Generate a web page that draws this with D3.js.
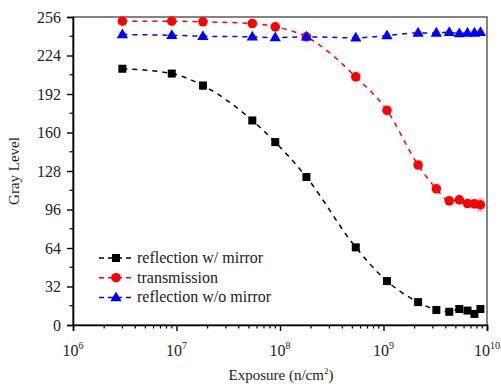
<!DOCTYPE html>
<html>
<head>
<meta charset="utf-8">
<script src="https://cdn.jsdelivr.net/npm/d3@7"></script>
<style>
  body { margin: 0; background: #fff; }
  text { font-family: 'Liberation Serif', serif; }
</style>
</head>
<body>
<svg id="chart" width="501" height="384"></svg>
<script>
// exposure (n/cm^2)
let exposure = [3e6, 9e6, 1.8e7, 5.4e7, 9e7, 1.8e8, 5.4e8, 1.08e9, 2.16e9, 3.24e9, 4.32e9, 5.4e9, 6.48e9, 7.56e9, 8.64e9]
let mirrorVals = [213, 209, 199, 170, 152, 123, 64.5, 36.5, 19, 12.5, 11, 13.3, 12, 9.2, 13.3]
let mirrorErr = [2, 1.5, 3, 2, 1, 1, 1, 1, 1, 1, 1, 1, 1, 1, 1]
let transVals = [252.5, 252.5, 252, 250.6, 247.8, 239.5, 206.2, 178.4, 133, 113.2, 103.2, 104, 101, 100.7, 99.9]
let transErr = [1, 1, 1, 1, 1, 1, 2, 2.5, 2, 2.5, 1.5, 3, 1.5, 2, 5]
let reflVals = [241.4, 240.8, 240, 239.5, 238.9, 239.5, 238.7, 240.6, 242.8, 242.8, 243.3, 242.3, 242.8, 242.8, 243.3]
let reflErr = [1.5, 1, 1, 1, 1, 1, 1.5, 1, 1, 1, 1, 1.5, 1, 1, 1]
let yTicks = [0, 32, 64, 96, 128, 160, 192, 224, 256]
let xDecades = [6, 7, 8, 9, 10]

let series = [
    { name: 'reflection w/ mirror', vals: mirrorVals, err: mirrorErr, color: '#000000', errColor: '#888888', shape: 'square' },
    { name: 'transmission', vals: transVals, err: transErr, color: '#ff0000', errColor: '#ff8888', shape: 'circle' },
    { name: 'reflection w/o mirror', vals: reflVals, err: reflErr, color: '#0000ff', errColor: '#8888ff', shape: 'triangle' }
]

let serif = 'Liberation Serif'
let chart = d3.select('#chart')
let plotLeft = 73, plotTop = 17, plotRight = 487, plotBottom = 325

let xScale = d3.scaleLog().domain([1e6, 1e10]).range([plotLeft, plotRight])
let yScale = d3.scaleLinear().domain([0, 256]).range([plotBottom, plotTop])

// frame
chart.append('rect')
    .attr('x', plotLeft).attr('y', plotTop)
    .attr('width', plotRight - plotLeft).attr('height', plotBottom - plotTop)
    .attr('fill', 'none').attr('stroke', '#333').attr('stroke-width', 1.2)

// minor ticks
let xMinor = []
for (let d = 6; d < 10; d++) for (let m = 2; m <= 9; m++) xMinor.push(m * Math.pow(10, d))
chart.append('g').selectAll('line').data(xMinor).enter().append('line')
    .attr('x1', (d) => xScale(d)).attr('x2', (d) => xScale(d))
    .attr('y1', plotBottom).attr('y2', plotBottom + 3.5)
    .attr('stroke', '#000').attr('stroke-width', 1.2)
let yMinor = d3.range(16, 256, 32)
chart.append('g').selectAll('line').data(yMinor).enter().append('line')
    .attr('x1', plotLeft - 3.5).attr('x2', plotLeft)
    .attr('y1', (d) => yScale(d)).attr('y2', (d) => yScale(d))
    .attr('stroke', '#000').attr('stroke-width', 1.2)

// y axis
let axisLeft = d3.axisLeft(yScale).tickValues(yTicks).tickSize(6).tickPadding(6)
let gy = chart.append('g').attr('transform', 'translate(' + plotLeft + ',0)').call(axisLeft)
gy.attr('font-family', serif)
gy.select('.domain').attr('stroke-width', 1.6)
gy.selectAll('.tick line').attr('stroke-width', 1.4)
gy.selectAll('text').attr('font-size', 16).attr('font-family', serif).attr('fill', '#222')

// x axis
let axisBottom = d3.axisBottom(xScale).tickValues(xDecades.map((d) => Math.pow(10, d))).tickSize(6).tickFormat('')
let gx = chart.append('g').attr('transform', 'translate(0,' + plotBottom + ')').call(axisBottom)
gx.select('.domain').attr('stroke-width', 1.6)
gx.selectAll('.tick line').attr('stroke-width', 1.4)
let xl = chart.append('g').selectAll('text').data(xDecades).enter().append('text')
    .attr('x', (d) => xScale(Math.pow(10, d)))
    .attr('y', 356)
    .attr('text-anchor', 'middle')
    .attr('font-family', serif)
    .attr('font-size', 16).attr('fill', '#222')
xl.append('tspan').text('10')
xl.append('tspan').attr('dy', -7).attr('font-size', 10).text((d) => d)

// axis titles
let xt = chart.append('text').attr('x', 281).attr('y', 380).attr('text-anchor', 'middle')
    .attr('font-family', serif).attr('font-size', 15).attr('fill', '#222')
xt.append('tspan').text('Exposure (n/cm')
xt.append('tspan').attr('dy', -6).attr('font-size', 9).text('2')
xt.append('tspan').attr('dy', 6).text(')')
chart.append('text').attr('transform', 'translate(19,171) rotate(-90)')
    .attr('text-anchor', 'middle').attr('font-family', serif).attr('font-size', 15).attr('fill', '#222')
    .text('Gray Level')

function drawMarker(g, shape, color, x, y) {
    if (shape == 'square') {
        g.append('rect').attr('x', x - 4).attr('y', y - 4).attr('width', 8).attr('height', 8).attr('fill', color)
    } else if (shape == 'circle') {
        g.append('circle').attr('cx', x).attr('cy', y).attr('r', 4.8).attr('fill', color)
    } else {
        g.append('path').attr('d', d3.symbol().type(d3.symbolTriangle).size(55)()).attr('transform', 'translate(' + x + ',' + (y + 0.5) + ')').attr('fill', color)
    }
}

let line = d3.line().curve(d3.curveMonotoneX)
    .x((d) => xScale(d[0])).y((d) => yScale(d[1]))

series.forEach((s) => {
    let pts = exposure.map((x, i) => [x, s.vals[i], s.err[i]])
    let g = chart.append('g')
    g.append('path').datum(pts).attr('d', line)
        .attr('fill', 'none').attr('stroke', s.color).attr('stroke-width', 1.5)
        .attr('stroke-dasharray', '5,5')
    // error bars
    pts.forEach((p) => {
        let x = xScale(p[0])
        let y0 = yScale(p[1] - p[2]), y1 = yScale(p[1] + p[2])
        g.append('line').attr('x1', x).attr('x2', x).attr('y1', y0).attr('y2', y1).attr('stroke', s.errColor).attr('stroke-width', 1)
        g.append('line').attr('x1', x - 3).attr('x2', x + 3).attr('y1', y0).attr('y2', y0).attr('stroke', s.errColor).attr('stroke-width', 1)
        g.append('line').attr('x1', x - 3).attr('x2', x + 3).attr('y1', y1).attr('y2', y1).attr('stroke', s.errColor).attr('stroke-width', 1)
    })
    pts.forEach((p) => drawMarker(g, s.shape, s.color, xScale(p[0]), yScale(p[1])))
})

// legend
let legend = chart.append('g')
series.forEach((s, i) => {
    let y = 258 + i * 19.7
    legend.append('line').attr('x1', 99).attr('x2', 135).attr('y1', y).attr('y2', y)
        .attr('stroke', s.color).attr('stroke-width', 1.5).attr('stroke-dasharray', '5,4')
    drawMarker(legend, s.shape, s.color, 116, y)
    legend.append('text').attr('x', 137).attr('y', y + 5).attr('font-family', serif)
        .attr('font-size', 16).attr('fill', '#222').text(s.name)
})
</script>
</body>
</html>
